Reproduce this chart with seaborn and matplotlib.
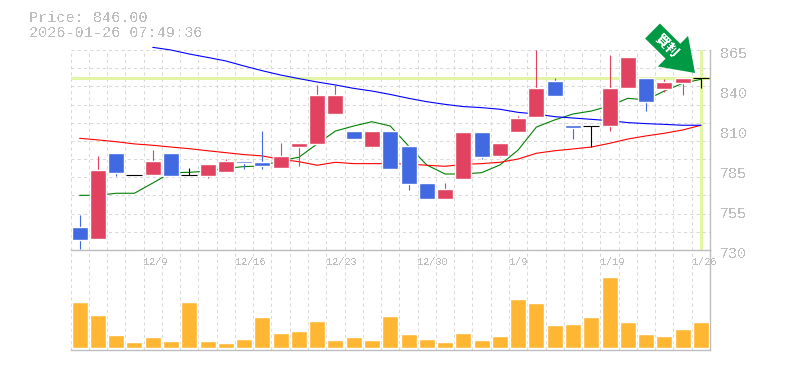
import matplotlib
matplotlib.use("Agg")
import matplotlib.pyplot as plt
from matplotlib.patches import FancyArrow
from matplotlib.transforms import Affine2D
import pandas as pd
import seaborn as sns

# candle data
body_top = [745.5, 784, 795.5, 780.6, 790, 795.5, 780.4, 788, 790, 790, 789.4, 793.5, 802.2, 834.6, 834.6, 810.3, 810.3, 810.3,
            800.2, 775.2, 771.2, 809.7, 809.7, 802.2, 819.1, 839.4, 844.1, 814.4, 813.9, 839.4, 860.3, 846.1, 843.4, 846.1, 846]
body_bot = [736.8, 737.4, 782, 780.6, 780.6, 780, 780.4, 780, 782.7, 788.7, 786.7, 785.4, 799.5, 801.6, 821.8, 804.9, 799.5, 784.7,
            774.6, 764.4, 764.4, 777.9, 792.8, 793.5, 809.7, 819.8, 834, 812.4, 813.9, 813.7, 839.4, 829.9, 838.7, 842.7, 846]
high = [753.6, 793.5, 795.5, 780.6, 797.5, 795.5, 785.4, 788, 791.4, 790, 810.3, 802.2, 802.2, 841.4, 842, 810.3, 810.3, 810.3,
        800.2, 775.2, 775.2, 809.7, 809.7, 802.2, 820.5, 865, 846.1, 814.4, 813.9, 861.6, 860.3, 846.1, 845.4, 846.1, 846]
low = [730.7, 737.4, 780, 780.6, 780.6, 780, 780.4, 778.6, 782.7, 784.7, 784.7, 785.4, 786.7, 801.6, 821.8, 804.9, 798.9, 784.7,
       770.5, 764.4, 764.4, 777.9, 791.4, 792.8, 809.7, 819.8, 834, 804.9, 799.5, 810.3, 839.4, 823.8, 836.7, 834.6, 839.4]
kind = list("brbkrbkrrbbrrrrbrb" "bbrrbrrrbbkrrbrrk")

ma_green = [766.9, 766.9, 768.3, 768.3, 775.2, 782.2, 782.4, 783.3, 785.1, 786.3, 786.7, 790.3, 792.6, 801.6, 810.3, 813.7, 816.6, 813.7,
            800.2, 787.4, 781.3, 781.3, 782.2, 787.4, 797.5, 813, 817.8, 821.8, 823.8, 827.2, 832.4, 831.3, 837.3, 842.5, 845.2]
ma_red = [805.4, 804.3, 803.1, 801.6, 800.7, 799.5, 798.4, 797, 795.7, 794.4, 793.5, 791.2, 789.6, 787.2, 789.2, 788.3, 788.3, 788.3,
          788, 787.2, 786.5, 787.8, 788.3, 789.2, 791.4, 795.3, 797, 798.2, 799.5, 802, 804.9, 807, 808.8, 811, 814.2]
ma_blue = [866.8, 865, 862.3, 860, 857.6, 854.2, 851, 848.1, 845.7, 843.4, 841.4, 839.1, 837.3, 835, 832.4, 830.1, 828.3, 826.8,
           826.1, 825, 822.9, 821.8, 820, 819.1, 818.2, 817.3, 816, 815.3, 814.8, 814.2, 814.2]
volume = [138, 99, 39, 18, 33, 21, 138, 21, 15, 27, 93, 45, 51, 81, 24, 33, 24, 96,
          42, 27, 18, 45, 24, 36, 147, 135, 69, 72, 93, 213, 78, 42, 36, 57, 78]

date_pos = [4, 9, 14, 19, 24, 29, 34]
date_labels = ["12/9", "12/16", "12/23", "12/30", "1/9", "1/19", "1/26"]
price_ticks = [730, 757, 784, 811, 838, 865]
price_labels = ["730", "755", "785", "810", "840", "865"]
last_price = 846

sns.set_theme(style="white")
plt.rcParams["font.family"] = ["Liberation Mono", "DejaVu Sans"]
plt.rcParams["text.antialiased"] = False

GREY = "#bdbdbd"
GRID = "#d8d8d8"
LIME = "#e2f5a5"
colors = {"r": "#e0425f", "b": "#4169e1", "k": "#000000"}

W, H = 785, 370
fig = plt.figure(figsize=(W / 100, H / 100), dpi=100)
left, right = 70.5 / W, 710 / W
ax = fig.add_axes([left, (H - 250) / H, right - left, 200 / H])
ax_vol = fig.add_axes([left, (H - 350) / H, right - left, 100 / H])
ax_vol.patch.set_visible(False)  # keeps the price axis line from being covered

idx = list(range(len(volume)))
df = pd.DataFrame({"idx": idx, "kind": kind, "top": body_top, "bot": body_bot, "high": high, "low": low})
df["height"] = df["top"] - df["bot"]

# grid first so everything else sits on top of it
for a in (ax, ax_vol):
    a.set_xlim(-0.5, 34.5)
    a.set_xticks([i - 0.5 for i in idx])
    a.set_xticklabels([])
    a.tick_params(length=0, which="both")
    a.grid(axis="x", color=GRID, linestyle=(0, (3, 3)), linewidth=0.75)
    a.set_axisbelow(True)
    for s in ("top", "left"):
        a.spines[s].set_visible(False)
    for s in ("right", "bottom"):
        a.spines[s].set_color(GREY)
        a.spines[s].set_linewidth(1)

ax.set_ylim(730, 865)
ax.set_yticks([730 + 135 / 11 * i for i in range(12)])
ax.set_yticklabels([])
ax.grid(axis="y", color=GRID, linestyle=(0, (3, 3)), linewidth=0.75)

# highlight of the last price and last day
ax.axhline(last_price, color=LIME, linewidth=2.2, zorder=1.5)
ax.axvline(idx[-1], color=LIME, linewidth=2.2, zorder=1.5)

# moving averages
sns.lineplot(x=idx, y=ma_green, color="green", linewidth=0.8, ax=ax, errorbar=None, zorder=4)
sns.lineplot(x=idx, y=ma_red, color="red", linewidth=0.8, ax=ax, errorbar=None, zorder=4)
sns.lineplot(x=idx[4:], y=ma_blue, color="blue", linewidth=0.8, ax=ax, errorbar=None, zorder=4, clip_on=False)

# candles
ax.vlines(df["idx"], df["low"], df["high"], colors=df["kind"].map(colors), linewidth=0.8, zorder=5)
sol = df[df["kind"] != "k"]
ax.bar(sol["idx"], sol["height"], bottom=sol["bot"], width=16 / 18.27, color=sol["kind"].map(colors), zorder=5)
doji = df[df["kind"] == "k"]
ax.hlines(doji["top"], doji["idx"] - 8 / 18.27, doji["idx"] + 8 / 18.27, colors="black", linewidth=0.8, zorder=5)

# volume
sns.barplot(x=idx, y=volume, native_scale=True, color="#ffb733", width=16 / 18.27, saturation=1, ax=ax_vol, zorder=3)
ax_vol.set_xlim(-0.5, 34.5)
ax_vol.set_ylim(-6, 294)
ax_vol.set_yticks([])

for pos, lab in zip(date_pos, date_labels):
    ax_vol.annotate(lab, (pos - 0.5, 1), xycoords=ax_vol.get_xaxis_transform(), xytext=(0, -12),
                    textcoords="offset pixels", ha="left", va="center", fontsize=7.3, color=GREY, zorder=6)

for val, lab in zip(price_ticks, price_labels):
    ax.annotate(lab, (1, val), xycoords=ax.get_yaxis_transform(), xytext=(10, -4),
                textcoords="offset pixels", ha="left", va="center", fontsize=10.8, color=GREY, annotation_clip=False)

fig.text(29 / W, (H - 18) / H, f"Price: {last_price:.2f}", fontsize=10.9, color=GREY, va="center", ha="left")
fig.text(29 / W, (H - 33) / H, "2026-01-26 07:49:36", fontsize=10.9, color=GREY, va="center", ha="left")

# green marker arrow, in figure pixels
px = Affine2D().scale(1 / W, 1 / H) + fig.transFigure
arrow = FancyArrow(652.5, H - 31, 42.5, -42, width=21, head_width=43, head_length=31, length_includes_head=True,
                   transform=px, color="#009944", linewidth=0, zorder=10, clip_on=False)
fig.add_artist(arrow)
fig.text(667 / W, (H - 46) / H, "買判", fontsize=9.5, color="white", fontweight="bold", rotation=-45, rotation_mode="anchor",
         ha="center", va="center", family=["Noto Sans CJK JP", "DejaVu Sans"], zorder=11)

fig.savefig("out.png", dpi=100)
